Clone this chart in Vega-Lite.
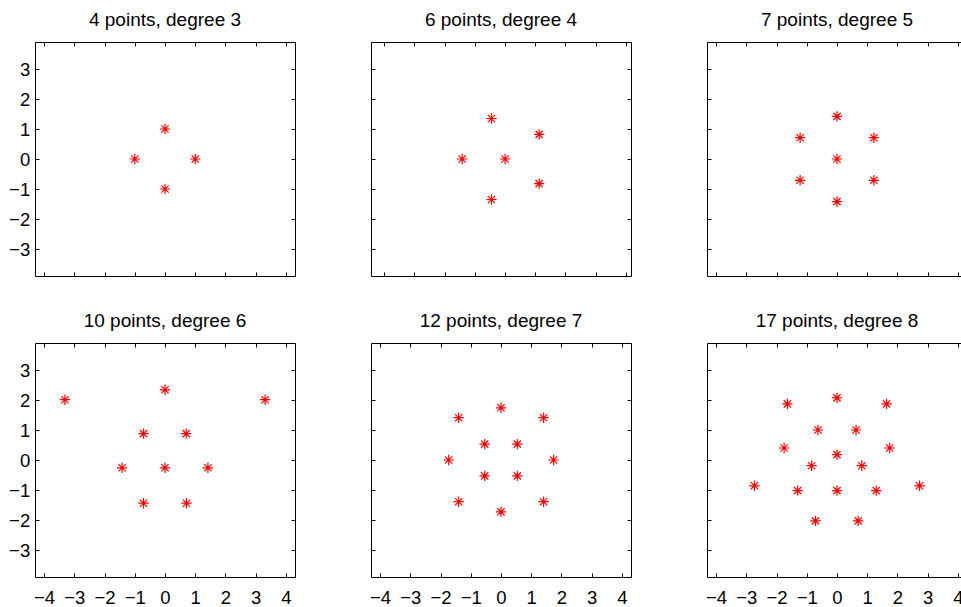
{
  "$schema": "https://vega.github.io/schema/vega-lite/v6.json",
  "background": "white",
  "padding": {"left": 8, "top": 10, "right": 0, "bottom": 0},
  "bounds": "flush",
  "columns": 3,
  "spacing": {"column": 76, "row": 67},
  "datasets": {
    "p1": [{"x": 0, "y": 1}, {"x": -1, "y": 0}, {"x": 1, "y": 0}, {"x": 0, "y": -1}],
    "p2": [{"x": -0.45, "y": 1.35}, {"x": 1.13, "y": 0.82}, {"x": -1.42, "y": 0}, {"x": 0, "y": 0}, {"x": 1.13, "y": -0.82}, {"x": -0.45, "y": -1.35}],
    "p3": [{"x": 0, "y": 1.42}, {"x": -1.22, "y": 0.71}, {"x": 1.22, "y": 0.71}, {"x": 0, "y": 0}, {"x": -1.22, "y": -0.71}, {"x": 1.22, "y": -0.71}, {"x": 0, "y": -1.42}],
    "p4": [{"x": -3.31, "y": 2.01}, {"x": 3.31, "y": 2.01}, {"x": 0, "y": 2.34}, {"x": -0.71, "y": 0.88}, {"x": 0.7, "y": 0.88}, {"x": -1.42, "y": -0.26}, {"x": 0, "y": -0.26}, {"x": 1.42, "y": -0.26}, {"x": -0.71, "y": -1.44}, {"x": 0.71, "y": -1.44}],
    "p5": [{"x": 0, "y": 1.74}, {"x": -1.4, "y": 1.41}, {"x": 1.41, "y": 1.41}, {"x": -0.54, "y": 0.53}, {"x": 0.54, "y": 0.53}, {"x": -1.73, "y": 0}, {"x": 1.74, "y": 0}, {"x": -0.54, "y": -0.53}, {"x": 0.54, "y": -0.53}, {"x": -1.4, "y": -1.39}, {"x": 1.41, "y": -1.39}, {"x": 0, "y": -1.73}],
    "p6": [{"x": 0, "y": 2.07}, {"x": -1.64, "y": 1.87}, {"x": 1.64, "y": 1.87}, {"x": -0.63, "y": 1.0}, {"x": 0.63, "y": 1.0}, {"x": -1.75, "y": 0.4}, {"x": 1.74, "y": 0.4}, {"x": 0, "y": 0.18}, {"x": -0.84, "y": -0.19}, {"x": 0.82, "y": -0.19}, {"x": -2.73, "y": -0.86}, {"x": 2.73, "y": -0.86}, {"x": -1.3, "y": -1.02}, {"x": 0, "y": -1.02}, {"x": 1.3, "y": -1.02}, {"x": -0.71, "y": -2.03}, {"x": 0.7, "y": -2.03}]
  },
  "concat": [
    {
      "title": "4 points, degree 3",
      "width": 260, "height": 234,
      "data": {"name": "p1"},
      "layer": [
        {"mark": {"type": "point", "shape": "M-1,0L1,0M0,-1L0,1M-0.7,-0.7L0.7,0.7M-0.7,0.7L0.7,-0.7", "filled": false, "color": "#ff0000", "size": 108, "strokeWidth": 1.2, "opacity": 1},
         "encoding": {
           "x": {"field": "x", "type": "quantitative", "title": null, "scale": {"domain": [-4.3, 4.3], "nice": false, "zero": false}, "axis": {"values": [-4, -3, -2, -1, 0, 1, 2, 3, 4], "labels": false}},
           "y": {"field": "y", "type": "quantitative", "title": null, "scale": {"domain": [-3.9, 3.9], "nice": false, "zero": false}, "axis": {"values": [-3, -2, -1, 0, 1, 2, 3], "labels": true}}
         }},
        {"mark": {"type": "point", "opacity": 0, "size": 0, "strokeWidth": 0},
         "encoding": {
           "x": {"field": "x", "type": "quantitative", "title": null, "axis": {"orient": "top", "values": [-4, -3, -2, -1, 0, 1, 2, 3, 4], "labels": false}},
           "y": {"field": "y", "type": "quantitative", "title": null, "axis": {"orient": "right", "values": [-3, -2, -1, 0, 1, 2, 3], "labels": false}}
         }}
      ],
      "resolve": {"axis": {"x": "independent", "y": "independent"}}
    },
    {
      "title": "6 points, degree 4",
      "width": 260, "height": 234,
      "data": {"name": "p2"},
      "layer": [
        {"mark": {"type": "point", "shape": "M-1,0L1,0M0,-1L0,1M-0.7,-0.7L0.7,0.7M-0.7,0.7L0.7,-0.7", "filled": false, "color": "#ff0000", "size": 108, "strokeWidth": 1.2, "opacity": 1},
         "encoding": {
           "x": {"field": "x", "type": "quantitative", "title": null, "scale": {"domain": [-4.44, 4.17], "nice": false, "zero": false}, "axis": {"values": [-4, -3, -2, -1, 0, 1, 2, 3, 4], "labels": false}},
           "y": {"field": "y", "type": "quantitative", "title": null, "scale": {"domain": [-3.9, 3.9], "nice": false, "zero": false}, "axis": {"values": [-3, -2, -1, 0, 1, 2, 3], "labels": false}}
         }},
        {"mark": {"type": "point", "opacity": 0, "size": 0, "strokeWidth": 0},
         "encoding": {
           "x": {"field": "x", "type": "quantitative", "title": null, "axis": {"orient": "top", "values": [-4, -3, -2, -1, 0, 1, 2, 3, 4], "labels": false}},
           "y": {"field": "y", "type": "quantitative", "title": null, "axis": {"orient": "right", "values": [-3, -2, -1, 0, 1, 2, 3], "labels": false}}
         }}
      ],
      "resolve": {"axis": {"x": "independent", "y": "independent"}}
    },
    {
      "title": "7 points, degree 5",
      "width": 260, "height": 234,
      "data": {"name": "p3"},
      "layer": [
        {"mark": {"type": "point", "shape": "M-1,0L1,0M0,-1L0,1M-0.7,-0.7L0.7,0.7M-0.7,0.7L0.7,-0.7", "filled": false, "color": "#ff0000", "size": 108, "strokeWidth": 1.2, "opacity": 1},
         "encoding": {
           "x": {"field": "x", "type": "quantitative", "title": null, "scale": {"domain": [-4.3, 4.3], "nice": false, "zero": false}, "axis": {"values": [-4, -3, -2, -1, 0, 1, 2, 3, 4], "labels": false}},
           "y": {"field": "y", "type": "quantitative", "title": null, "scale": {"domain": [-3.9, 3.9], "nice": false, "zero": false}, "axis": {"values": [-3, -2, -1, 0, 1, 2, 3], "labels": false}}
         }},
        {"mark": {"type": "point", "opacity": 0, "size": 0, "strokeWidth": 0},
         "encoding": {
           "x": {"field": "x", "type": "quantitative", "title": null, "axis": {"orient": "top", "values": [-4, -3, -2, -1, 0, 1, 2, 3, 4], "labels": false}},
           "y": {"field": "y", "type": "quantitative", "title": null, "axis": {"orient": "right", "values": [-3, -2, -1, 0, 1, 2, 3], "labels": false}}
         }}
      ],
      "resolve": {"axis": {"x": "independent", "y": "independent"}}
    },
    {
      "title": "10 points, degree 6",
      "width": 260, "height": 234,
      "data": {"name": "p4"},
      "layer": [
        {"mark": {"type": "point", "shape": "M-1,0L1,0M0,-1L0,1M-0.7,-0.7L0.7,0.7M-0.7,0.7L0.7,-0.7", "filled": false, "color": "#ff0000", "size": 108, "strokeWidth": 1.2, "opacity": 1},
         "encoding": {
           "x": {"field": "x", "type": "quantitative", "title": null, "scale": {"domain": [-4.3, 4.3], "nice": false, "zero": false}, "axis": {"values": [-4, -3, -2, -1, 0, 1, 2, 3, 4], "labels": true}},
           "y": {"field": "y", "type": "quantitative", "title": null, "scale": {"domain": [-3.9, 3.9], "nice": false, "zero": false}, "axis": {"values": [-3, -2, -1, 0, 1, 2, 3], "labels": true}}
         }},
        {"mark": {"type": "point", "opacity": 0, "size": 0, "strokeWidth": 0},
         "encoding": {
           "x": {"field": "x", "type": "quantitative", "title": null, "axis": {"orient": "top", "values": [-4, -3, -2, -1, 0, 1, 2, 3, 4], "labels": false}},
           "y": {"field": "y", "type": "quantitative", "title": null, "axis": {"orient": "right", "values": [-3, -2, -1, 0, 1, 2, 3], "labels": false}}
         }}
      ],
      "resolve": {"axis": {"x": "independent", "y": "independent"}}
    },
    {
      "title": "12 points, degree 7",
      "width": 260, "height": 234,
      "data": {"name": "p5"},
      "layer": [
        {"mark": {"type": "point", "shape": "M-1,0L1,0M0,-1L0,1M-0.7,-0.7L0.7,0.7M-0.7,0.7L0.7,-0.7", "filled": false, "color": "#ff0000", "size": 108, "strokeWidth": 1.2, "opacity": 1},
         "encoding": {
           "x": {"field": "x", "type": "quantitative", "title": null, "scale": {"domain": [-4.3, 4.3], "nice": false, "zero": false}, "axis": {"values": [-4, -3, -2, -1, 0, 1, 2, 3, 4], "labels": true}},
           "y": {"field": "y", "type": "quantitative", "title": null, "scale": {"domain": [-3.9, 3.9], "nice": false, "zero": false}, "axis": {"values": [-3, -2, -1, 0, 1, 2, 3], "labels": false}}
         }},
        {"mark": {"type": "point", "opacity": 0, "size": 0, "strokeWidth": 0},
         "encoding": {
           "x": {"field": "x", "type": "quantitative", "title": null, "axis": {"orient": "top", "values": [-4, -3, -2, -1, 0, 1, 2, 3, 4], "labels": false}},
           "y": {"field": "y", "type": "quantitative", "title": null, "axis": {"orient": "right", "values": [-3, -2, -1, 0, 1, 2, 3], "labels": false}}
         }}
      ],
      "resolve": {"axis": {"x": "independent", "y": "independent"}}
    },
    {
      "title": "17 points, degree 8",
      "width": 260, "height": 234,
      "data": {"name": "p6"},
      "layer": [
        {"mark": {"type": "point", "shape": "M-1,0L1,0M0,-1L0,1M-0.7,-0.7L0.7,0.7M-0.7,0.7L0.7,-0.7", "filled": false, "color": "#ff0000", "size": 108, "strokeWidth": 1.2, "opacity": 1},
         "encoding": {
           "x": {"field": "x", "type": "quantitative", "title": null, "scale": {"domain": [-4.3, 4.3], "nice": false, "zero": false}, "axis": {"values": [-4, -3, -2, -1, 0, 1, 2, 3, 4], "labels": true}},
           "y": {"field": "y", "type": "quantitative", "title": null, "scale": {"domain": [-3.9, 3.9], "nice": false, "zero": false}, "axis": {"values": [-3, -2, -1, 0, 1, 2, 3], "labels": false}}
         }},
        {"mark": {"type": "point", "opacity": 0, "size": 0, "strokeWidth": 0},
         "encoding": {
           "x": {"field": "x", "type": "quantitative", "title": null, "axis": {"orient": "top", "values": [-4, -3, -2, -1, 0, 1, 2, 3, 4], "labels": false}},
           "y": {"field": "y", "type": "quantitative", "title": null, "axis": {"orient": "right", "values": [-3, -2, -1, 0, 1, 2, 3], "labels": false}}
         }}
      ],
      "resolve": {"axis": {"x": "independent", "y": "independent"}}
    }
  ],
  "config": {
    "view": {"stroke": null},
    "axis": {
      "grid": false,
      "domainColor": "black",
      "domainWidth": 1,
      "tickColor": "black",
      "tickWidth": 1,
      "tickSize": -4,
      "labelFont": "Liberation Sans",
      "labelFontSize": 18.5,
      "labelColor": "black",
      "labelOverlap": false,
      "labelFlush": false,
      "minExtent": 0
    },
    "axisX": {"labelPadding": 15},
    "axisY": {"labelPadding": 9.3},
    "title": {
      "font": "Liberation Sans",
      "fontSize": 19,
      "fontWeight": "normal",
      "color": "black",
      "baseline": "alphabetic",
      "offset": 12
    }
  }
}
